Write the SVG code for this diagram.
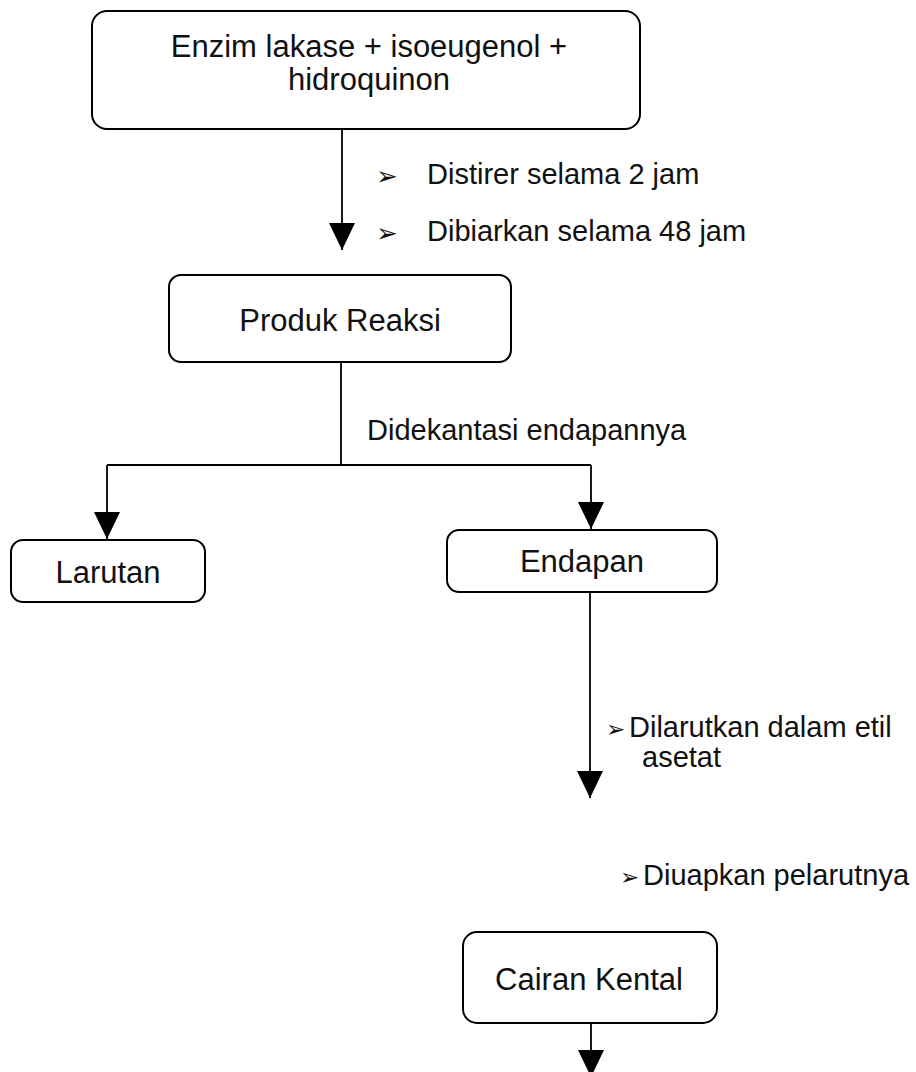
<svg xmlns="http://www.w3.org/2000/svg" width="916" height="1072" viewBox="0 0 916 1072">
  <style>
    .box { fill: none; stroke: #000; stroke-width: 2; }
    .node { font-family: "Liberation Sans", Arial, sans-serif; font-size: 31px; fill: #111; text-anchor: middle; }
    .label { font-family: "Liberation Sans", Arial, sans-serif; font-size: 29px; fill: #111; }
    .bullet { font-family: "DejaVu Sans", sans-serif; font-size: 26px; fill: #111; }
    .bullet-tight { font-family: "DejaVu Sans", sans-serif; font-size: 23px; fill: #111; }
    .edge { fill: none; stroke: #000; stroke-width: 1.8; }
  </style>
  <defs>
    <marker id="arrow" markerUnits="userSpaceOnUse" markerWidth="27" markerHeight="26" refX="27" refY="13" orient="auto">
      <path d="M0,0 L27,13 L0,26 Z" fill="#000"/>
    </marker>
  </defs>
  <rect width="916" height="1072" fill="#fff"/>

  <!-- connectors -->
  <g id="connectors">
    <line class="edge" x1="342" y1="129" x2="342" y2="250" marker-end="url(#arrow)"/>
    <polyline class="edge" points="341,362 341,465"/>
    <polyline class="edge" points="107,465 591,465"/>
    <line class="edge" x1="107" y1="465" x2="107" y2="539" marker-end="url(#arrow)"/>
    <line class="edge" x1="591" y1="465" x2="591" y2="529" marker-end="url(#arrow)"/>
    <line class="edge" x1="590" y1="592" x2="590" y2="798" marker-end="url(#arrow)"/>
    <line class="edge" x1="591" y1="1023" x2="591" y2="1077" marker-end="url(#arrow)"/>
  </g>

  <!-- step labels -->
  <g id="labels">
    <text class="bullet" x="376" y="185">➢</text>
    <text class="label" x="427" y="184">Distirer selama 2 jam</text>
    <text class="bullet" x="376" y="242">➢</text>
    <text class="label" x="427" y="241">Dibiarkan selama 48 jam</text>
    <text class="label" x="367" y="440">Didekantasi endapannya</text>
    <text class="bullet-tight" x="606" y="737">➢</text>
    <text class="label" x="629" y="737">Dilarutkan dalam etil</text>
    <text class="label" x="642" y="767">asetat</text>
    <text class="bullet-tight" x="620" y="885">➢</text>
    <text class="label" x="643" y="885">Diuapkan pelarutnya</text>
  </g>

  <g id="node-start">
    <rect class="box" x="92" y="11" width="548" height="118" rx="15"/>
    <text class="node" x="369" y="57">Enzim lakase + isoeugenol +</text>
    <text class="node" x="369" y="90">hidroquinon</text>
  </g>

  <g id="node-produk">
    <rect class="box" x="169" y="275" width="342" height="87" rx="12"/>
    <text class="node" x="340" y="331">Produk Reaksi</text>
  </g>

  <g id="node-larutan">
    <rect class="box" x="11" y="540" width="194" height="62" rx="12"/>
    <text class="node" x="108" y="583">Larutan</text>
  </g>

  <g id="node-endapan">
    <rect class="box" x="447" y="530" width="270" height="62" rx="12"/>
    <text class="node" x="582" y="572">Endapan</text>
  </g>

  <g id="node-cairan">
    <rect class="box" x="463" y="932" width="254" height="91" rx="14"/>
    <text class="node" x="589" y="990">Cairan Kental</text>
  </g>
</svg>
